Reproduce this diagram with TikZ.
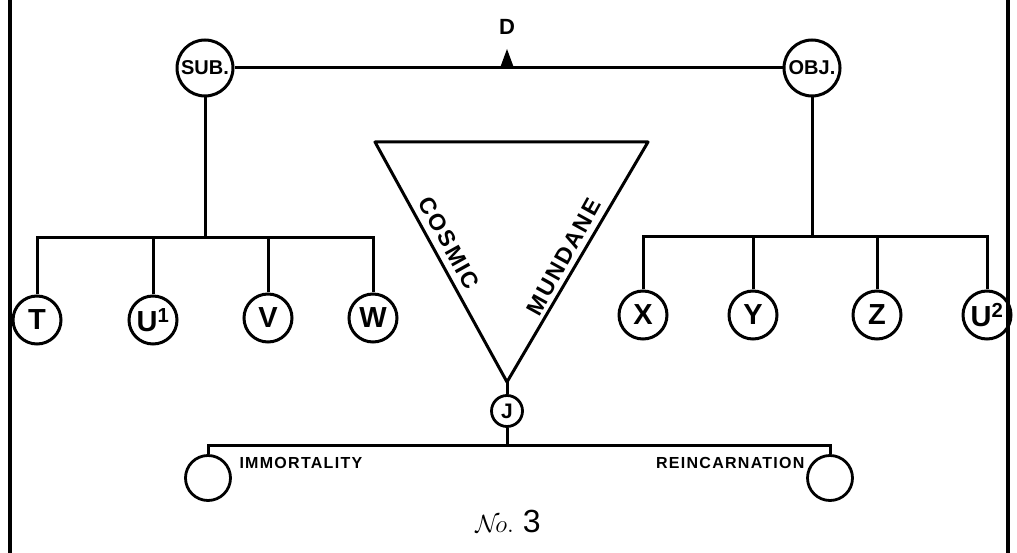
\documentclass[tikz,border=0pt]{standalone}
\usepackage{fontspec}
\setmainfont{Liberation Sans}
\newfontfamily\handfont[LetterSpace=8]{Liberation Sans}
\usetikzlibrary{positioning}

\begin{document}
\begin{tikzpicture}[x=1pt, y=-1pt,
      every node/.style={font=\bfseries},
      wire/.style={draw=black, line width=3pt},
      frame/.style={draw=black, line width=3.6pt},
      bigring/.style={circle, draw=black, line width=3pt, minimum size=56pt,
                      inner sep=0pt, font=\bfseries\fontsize{20}{22}\selectfont},
      ring/.style={circle, draw=black, line width=3pt, minimum size=48pt,
                   inner sep=0pt, font=\bfseries\fontsize{29}{31}\selectfont},
      smallring/.style={circle, draw=black, line width=2.8pt, minimum size=31pt,
                        inner sep=0pt, font=\bfseries\fontsize{21}{23}\selectfont},
      emptyring/.style={circle, draw=black, line width=2.8pt, minimum size=45pt, inner sep=0pt},
      word/.style={font=\handfont\bfseries\fontsize{16}{18}\selectfont},
      sideword/.style={font=\handfont\bfseries\fontsize{23}{25}\selectfont}]

    \useasboundingbox (0,0) rectangle (1017,553);

    % frame (left and right sides only)
    \draw[frame] (10,0) -- (10,553);
    \draw[frame] (1008,0) -- (1008,553);

    % subject and object with the D pointer between them
    \node[bigring] (sub) at (205,68) {SUB.};
    \node[bigring] (obj) at (812,68) {OBJ.};
    \draw[wire] (sub) -- (obj);
    \coordinate (dmark) at (507,68);
    \fill[black] ([xshift=-7pt]dmark) -- ([yshift=19pt]dmark) -- ([xshift=7pt]dmark) -- cycle;
    \node[font=\bfseries\fontsize{22}{24}\selectfont] (dlab) at (507,27) {D};

    % subject branch
    \coordinate (lbus) at (205,238);
    \node[ring] (nt)  at (37,320)  {T};
    \node[ring] (nu1) at (153,320) {U\textsuperscript{1}};
    \node[ring] (nv)  at (268,318) {V};
    \node[ring] (nw)  at (373,318) {W};
    \draw[wire] (sub) -- (lbus);
    \draw[wire] (nt) -- (nt |- lbus) -- (nw |- lbus) -- (nw);
    \foreach \n in {nu1, nv}
      \draw[wire] (\n) -- (\n |- lbus);

    % object branch
    \coordinate (rbus) at (812,237);
    \node[ring] (nx)  at (643,315) {X};
    \node[ring] (ny)  at (753,315) {Y};
    \node[ring] (nz)  at (877,315) {Z};
    \node[ring] (nu2) at (987,315) {U\textsuperscript{2}};
    \draw[wire] (obj) -- (rbus);
    \draw[wire] (nx) -- (nx |- rbus) -- (nu2 |- rbus) -- (nu2);
    \foreach \n in {ny, nz}
      \draw[wire] (\n) -- (\n |- rbus);

    % inverted triangle
    \coordinate (tl) at (375,142);
    \coordinate (tr) at (648,142);
    \coordinate (apex) at (507,382);
    \draw[wire, line join=round] (tl) -- (tr) -- (apex) -- cycle;
    \node[sideword, rotate=-61] (cosmic) at (449,243) {COSMIC};
    \node[sideword, rotate=61] (mundane) at (564,257) {MUNDANE};

    % J and its two outcomes
    \node[smallring] (nj) at (507,411) {J};
    \draw[wire] (apex) -- (nj);
    \coordinate (jbus) at (507,445);
    \node[emptyring] (nimm) at (208,478) {};
    \node[emptyring] (nrei) at (830,478) {};
    \draw[wire] (nj) -- (jbus);
    \draw[wire] (nimm) -- (nimm |- jbus) -- (nrei |- jbus) -- (nrei);
    \node[word, anchor=west] (limm) at (236,463) {IMMORTALITY};
    \node[word, anchor=east] (lrei) at (808,463) {REINCARNATION};

    \node[font=\fontsize{32}{34}\selectfont] (caption) at (508,521) {$\mathcal{N}\!o.$ 3};
\end{tikzpicture}
\end{document}
